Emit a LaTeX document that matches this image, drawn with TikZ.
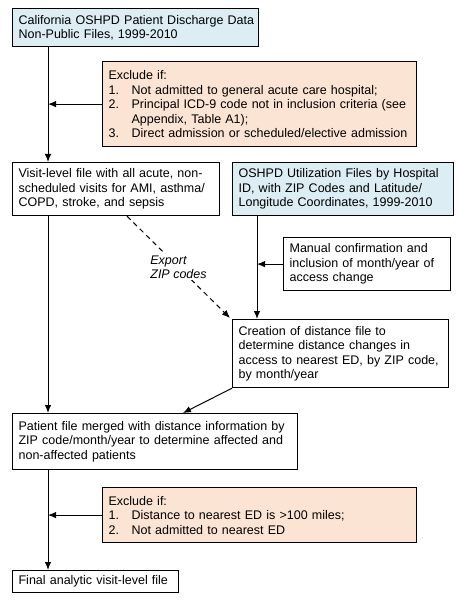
\documentclass[tikz,border=0pt]{standalone}
\usepackage{fontspec}
\setmainfont{Liberation Sans}
\usetikzlibrary{arrows.meta}
\definecolor{srcblue}{RGB}{220,237,243}
\definecolor{exclpeach}{RGB}{252,228,212}
\newcommand{\exnum}[1]{\makebox[23pt][l]{#1}}
\begin{document}
\begin{tikzpicture}[x=1pt, y=-1pt, line width=1pt, >={Latex[length=8pt,width=6.5pt]},
  step box/.style={draw, line width=1.2pt, anchor=north west, align=left, inner xsep=6pt, inner ysep=2pt,
    font=\fontsize{12.5}{14.5}\selectfont},
  data box/.style={step box, fill=srcblue},
  excl box/.style={step box, fill=exclpeach}]
\useasboundingbox (0,0) rectangle (460,601);
\coordinate (trunk) at (48,0);
\coordinate (util) at (257,0);
\begin{scope}
\node[data box, inner xsep=3pt, text width=240pt, minimum height=38pt] (src) at (12,8) {\hspace*{3pt}California OSHPD Patient Discharge Data\\\hspace*{3pt}Non-Public Files, 1999-2010};
\node[excl box, text width=302pt, minimum height=85pt] (excl1) at (102,61) {Exclude if:\\
\exnum{1.}Not admitted to general acute care hospital;\\
\exnum{2.}Principal ICD-9 code not in inclusion criteria (see\\
\exnum{}Appendix, Table A1);\\
\exnum{3.}Direct admission or scheduled/elective admission};
\node[step box, text width=195pt, minimum height=53pt] (visit) at (12,162) {Visit-level file with all acute, non-\\scheduled visits for AMI, asthma/\\COPD, stroke, and sepsis};
\node[data box, text width=209pt, minimum height=53pt] (utilz) at (232,162) {OSHPD Utilization Files by Hospital\\ID, with ZIP Codes and Latitude/\\Longitude Coordinates, 1999-2010};
\node[step box, text width=155pt, minimum height=53pt] (manual) at (283,237) {Manual confirmation and\\inclusion of month/year of\\access change};
\node[step box, text width=204pt, minimum height=68pt] (dist) at (232,319) {Creation of distance file to\\determine distance changes in\\access to nearest ED, by ZIP code,\\by month/year};
\node[step box, text width=273pt, minimum height=56pt] (merged) at (12,413) {Patient file merged with distance information by\\ZIP code/month/year to determine affected and\\non-affected patients};
\node[excl box, text width=302pt, minimum height=55pt] (excl2) at (102,487) {Exclude if:\\
\exnum{1.}Distance to nearest ED is >100 miles;\\
\exnum{2.}Not admitted to nearest ED};
\node[step box, text width=154pt, minimum height=22pt] (final) at (12,570) {Final analytic visit-level file};
\end{scope}
\begin{scope}
\draw[->] (src.south -| trunk) -- (visit.north -| trunk);
\draw[->] (excl1.west) -- (excl1.west -| trunk);
\draw[->] (visit.south -| trunk) -- (merged.north -| trunk);
\draw[->] (merged.south -| trunk) -- (final.north -| trunk);
\draw[->] (excl2.west) -- (excl2.west -| trunk);
\draw[->] (utilz.south -| util) -- (dist.north -| util);
\draw[->] (manual.west) -- (manual.west -| util);
\draw[->] (dist.south west) -- ([xshift=171pt]merged.north west);
\draw[->, dashed, dash pattern=on 5pt off 4pt] ([xshift=115pt]visit.south west) -- node[fill=white, align=left, inner sep=1pt, font=\fontsize{12.5}{14.5}\selectfont\itshape] (export) {Export\\ZIP codes} ([xshift=-2pt,yshift=1pt]dist.north west);
\end{scope}
\end{tikzpicture}
\end{document}
